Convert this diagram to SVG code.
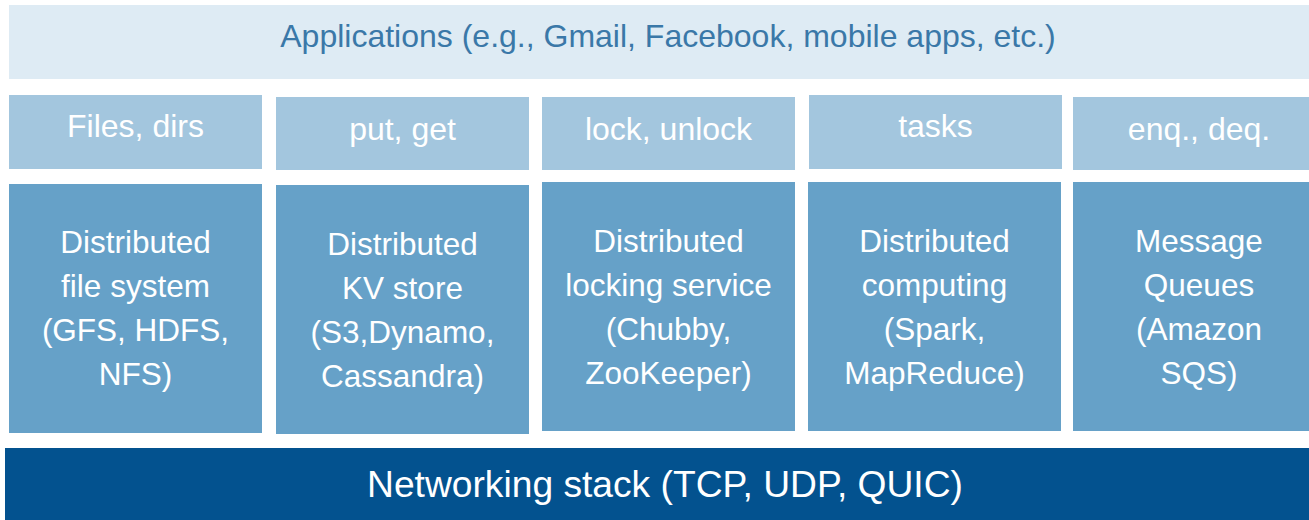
<svg xmlns="http://www.w3.org/2000/svg" width="1309" height="520" viewBox="0 0 1309 520">
<style>
text{font-family:"Liberation Sans",Arial,sans-serif;text-anchor:middle}
.app{fill:#DEEBF4}
.api{fill:#A3C6DE}
.svc{fill:#66A1C8}
.net{fill:#03528F}
.t-app{fill:#3A78A8;font-size:32px}
.t-api{fill:#FFFFFF;font-size:32px}
.t-svc{fill:#FFFFFF;font-size:31.5px}
.t-net{fill:#FFFFFF;font-size:37.2px}
</style>
<g id="applications">
<rect class="app" x="9" y="5" width="1300" height="74"/>
<text class="t-app" x="668" y="47">Applications (e.g., Gmail, Facebook, mobile apps, etc.)</text>
</g>
<g id="api-files">
<rect class="api" x="9" y="95" width="253" height="74"/>
<text class="t-api" x="135.5" y="137">Files, dirs</text>
</g>
<g id="api-kv">
<rect class="api" x="276" y="97" width="253" height="73"/>
<text class="t-api" x="402.5" y="140">put, get</text>
</g>
<g id="api-lock">
<rect class="api" x="542" y="97" width="253" height="73"/>
<text class="t-api" x="668.5" y="140">lock, unlock</text>
</g>
<g id="api-tasks">
<rect class="api" x="809" y="95" width="253" height="74"/>
<text class="t-api" x="935.5" y="137">tasks</text>
</g>
<g id="api-queue">
<rect class="api" x="1073" y="97" width="236" height="73"/>
<text class="t-api" x="1199" y="140">enq., deq.</text>
</g>
<g id="svc-dfs">
<rect class="svc" x="9" y="184" width="253" height="249"/>
<text class="t-svc" x="135.5" y="253">Distributed</text>
<text class="t-svc" x="135.5" y="297">file system</text>
<text class="t-svc" x="135.5" y="341">(GFS, HDFS,</text>
<text class="t-svc" x="135.5" y="385">NFS)</text>
</g>
<g id="svc-kv">
<rect class="svc" x="276" y="185" width="253" height="249"/>
<text class="t-svc" x="402.5" y="255">Distributed</text>
<text class="t-svc" x="402.5" y="299">KV store</text>
<text class="t-svc" x="402.5" y="343">(S3,Dynamo,</text>
<text class="t-svc" x="402.5" y="387">Cassandra)</text>
</g>
<g id="svc-lock">
<rect class="svc" x="542" y="182" width="253" height="249"/>
<text class="t-svc" x="668.5" y="252">Distributed</text>
<text class="t-svc" x="668.5" y="296">locking service</text>
<text class="t-svc" x="668.5" y="340">(Chubby,</text>
<text class="t-svc" x="668.5" y="384">ZooKeeper)</text>
</g>
<g id="svc-compute">
<rect class="svc" x="808" y="182" width="253" height="249"/>
<text class="t-svc" x="934.5" y="252">Distributed</text>
<text class="t-svc" x="934.5" y="296">computing</text>
<text class="t-svc" x="934.5" y="340">(Spark,</text>
<text class="t-svc" x="934.5" y="384">MapReduce)</text>
</g>
<g id="svc-queue">
<rect class="svc" x="1073" y="182" width="236" height="249"/>
<text class="t-svc" x="1199" y="252">Message</text>
<text class="t-svc" x="1199" y="296">Queues</text>
<text class="t-svc" x="1199" y="340">(Amazon</text>
<text class="t-svc" x="1199" y="384">SQS)</text>
</g>
<g id="networking">
<rect class="net" x="5" y="448" width="1304" height="72"/>
<text class="t-net" x="665" y="497">Networking stack (TCP, UDP, QUIC)</text>
</g>
<g id="connectors"/>
</svg>
